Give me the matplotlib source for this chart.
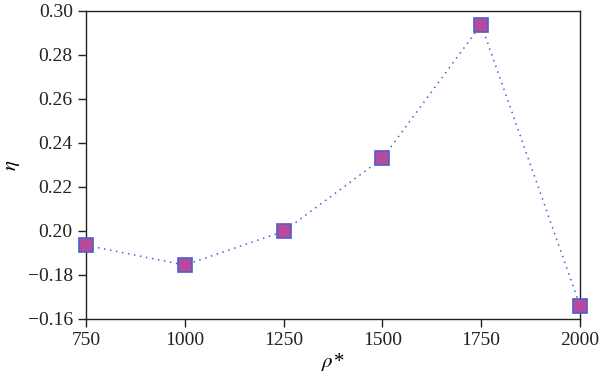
import matplotlib
matplotlib.use("Agg")
import matplotlib.pyplot as plt
from matplotlib.ticker import FixedLocator, FixedFormatter

# data
rho = [750, 1000, 1250, 1500, 1750, 2000]
eta = [0.1935, 0.1845, 0.1998, 0.2330, 0.2938, 0.1660]

yticks = [0.16, 0.18, 0.20, 0.22, 0.24, 0.26, 0.28, 0.30]
ylabels = ["\u22120.16", "\u22120.18", "0.20", "0.22", "0.24", "0.26", "0.28", "0.30"]
xticks = [750, 1000, 1250, 1500, 1750, 2000]

plt.rcParams['font.family'] = ['Liberation Serif', 'DejaVu Serif']
plt.rcParams['mathtext.fontset'] = 'stix'

fig = plt.figure(figsize=(6, 3.84), dpi=100)
ax = fig.add_axes([0.1433, 0.1693, 0.8234, 0.8021])

ax.plot(rho, eta, linestyle=(0, (1, 3)), color='#4b5fd0', linewidth=1.1,
        marker='s', markersize=9.5, markerfacecolor='#b84a9e',
        markeredgecolor='#4a62c8', markeredgewidth=1.2, clip_on=False, zorder=3)

ax.set_xlim(750, 2000)
ax.set_ylim(0.16, 0.30)
ax.xaxis.set_major_locator(FixedLocator(xticks))
ax.yaxis.set_major_locator(FixedLocator(yticks))
ax.yaxis.set_major_formatter(FixedFormatter(ylabels))

for s in ax.spines.values():
    s.set_linewidth(1.0)
    s.set_color('#222222')
ax.tick_params(direction='out', length=6, width=1.0, labelsize=14,
               top=False, right=False, colors='#222222')
ax.set_xlabel(r'$\rho$*', fontsize=15, style='italic', labelpad=1)
ax.set_ylabel(r'$\eta$', fontsize=15)

fig.savefig('out.png', dpi=100)
